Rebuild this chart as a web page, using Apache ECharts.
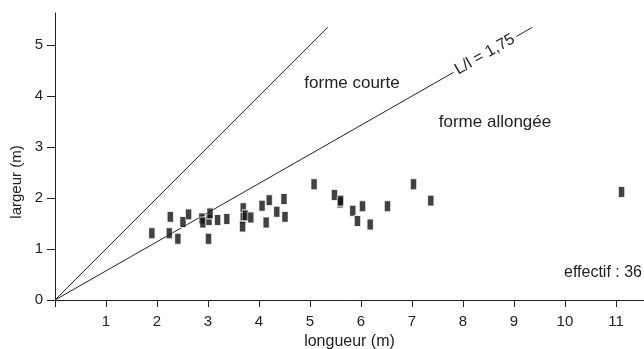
<!DOCTYPE html>
<html>
<head>
<meta charset="utf-8">
<script src="https://cdn.jsdelivr.net/npm/echarts@6/dist/echarts.min.js"></script>
<style>
  html, body { margin: 0; padding: 0; background: #fff; }
  #chart { width: 644px; height: 349px; }
</style>
</head>
<body>
<div id="chart"></div>
<script>
// longueur (m) / largeur (m) of each piece
var longueurs = [1.90, 2.24, 2.26, 2.41, 2.51, 2.62, 2.88, 2.90, 3.02, 3.04, 3.01, 3.19, 3.37,
                 3.69, 3.69, 3.68, 3.73, 3.84, 4.06, 4.20, 4.14, 4.35, 4.49, 4.51,
                 5.08, 5.48, 5.59, 5.60, 5.84, 6.03, 5.93, 6.18, 6.52, 7.03, 7.37, 11.11];
var largeurs = [1.31, 1.31, 1.63, 1.20, 1.53, 1.68, 1.60, 1.52, 1.57, 1.70, 1.20, 1.57, 1.59,
                1.80, 1.61, 1.44, 1.66, 1.62, 1.85, 1.96, 1.52, 1.73, 1.98, 1.63,
                2.27, 2.06, 1.91, 1.95, 1.75, 1.84, 1.55, 1.48, 1.84, 2.27, 1.95, 2.12];
var ratio = 1.75;          // L/l
var courteFin = 5.35;      // end of the L = l line
var allongeeFin = 9.36;    // end of the L/l = 1,75 line

var points = longueurs.map(function (l, i) { return [l, largeurs[i]]; });

var chart = echarts.init(document.getElementById('chart'));
var font = 'Liberation Sans, Arial, sans-serif';
var ink = '#222';

var option = {
    animation: false,
    grid: { left: 55, right: 0, top: 13, bottom: 49, containLabel: false, outerBoundsMode: 'none' },
    xAxis: {
        type: 'value',
        min: 0,
        max: 11.55,
        interval: 1,
        name: 'longueur (m)',
        nameLocation: 'middle',
        nameGap: 31,
        nameTextStyle: { color: ink, fontSize: 16, fontFamily: font },
        axisLine: { lineStyle: { color: ink, width: 1 } },
        axisTick: { length: 7, lineStyle: { color: ink } },
        axisLabel: {
            color: ink, fontSize: 15, fontFamily: font, margin: 14,
            showMaxLabel: false,
            formatter: function (v) { return v === 0 ? '' : String(v); }
        },
        splitLine: { show: false }
    },
    yAxis: {
        type: 'value',
        min: 0,
        max: 5.63,
        interval: 1,
        axisLine: { show: true, lineStyle: { color: ink, width: 1 } },
        axisTick: { show: true, length: 8, lineStyle: { color: ink } },
        axisLabel: { color: ink, fontSize: 15, fontFamily: font, margin: 12, showMaxLabel: false },
        splitLine: { show: false }
    },
    series: [
        {
            type: 'line',
            data: [[0, 0], [courteFin, courteFin]],
            symbol: 'none',
            lineStyle: { color: ink, width: 1 },
            z: 1
        },
        {
            type: 'line',
            data: [[0, 0], [allongeeFin, allongeeFin / ratio]],
            symbol: 'none',
            lineStyle: { color: ink, width: 1 },
            z: 1
        },
        {
            type: 'scatter',
            data: points,
            symbol: 'rect',
            symbolSize: [6, 11],
            itemStyle: { color: '#111', borderColor: '#fff', borderWidth: 0.8 },
            z: 3
        }
    ]
};
chart.setOption(option);

var lblPos = chart.convertToPixel({ gridIndex: 0 }, [8.43, 8.43 / ratio]);
chart.setOption({
    graphic: [
        {
            type: 'text', x: 17, y: 182, rotation: Math.PI / 2, z: 100,
            style: {
                text: 'largeur (m)', fill: ink, font: '15px ' + font,
                align: 'center', verticalAlign: 'middle'
            }
        },
        {
            type: 'text', x: 352, y: 83, z: 100,
            style: { text: 'forme courte', fill: ink, font: '17px ' + font, align: 'center', verticalAlign: 'middle' }
        },
        {
            type: 'text', x: 495, y: 122, z: 100,
            style: { text: 'forme allongée', fill: ink, font: '17px ' + font, align: 'center', verticalAlign: 'middle' }
        },
        {
            type: 'text', x: 642, y: 273, z: 100,
            style: { text: 'effectif : 36', fill: ink, font: '16px ' + font, align: 'right', verticalAlign: 'middle' }
        },
        {
            type: 'text', x: lblPos[0], y: lblPos[1], z: 100,
            rotation: Math.atan(1 / ratio),
            style: {
                text: 'L/l = 1,75', fill: ink, font: '16px ' + font,
                align: 'center', verticalAlign: 'middle',
                backgroundColor: '#fff', padding: [0, 3]
            }
        }
    ]
});

window.addEventListener('resize', function () {
    chart.resize();
});
</script>
</body>
</html>
